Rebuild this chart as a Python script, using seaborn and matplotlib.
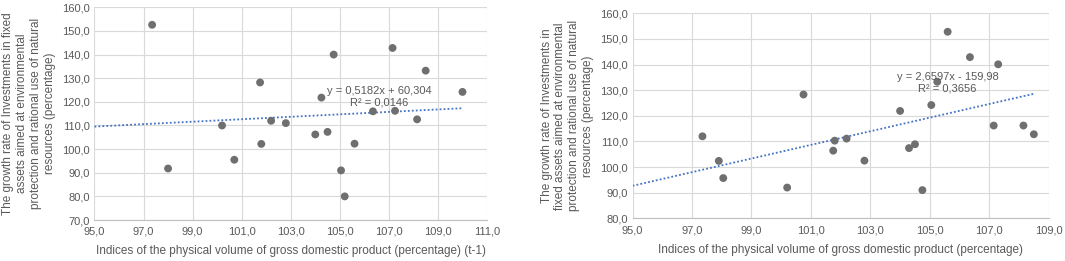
import numpy as np
import pandas as pd
import seaborn as sns
import matplotlib.pyplot as plt
from matplotlib.ticker import FuncFormatter

# GDP volume index (t-1) vs growth rate of environmental investments
gdp_lag = [97.35, 98.0, 100.2, 100.7, 101.75, 101.8, 102.2, 102.8, 104.0, 104.25, 104.5,
           104.75, 105.05, 105.2, 105.6, 106.35, 107.15, 107.25, 108.15, 108.5, 110.0]
invest_lag = [152.6, 91.8, 110.0, 95.5, 128.2, 102.2, 112.0, 111.0, 106.2, 121.8, 107.3,
              140.0, 91.0, 80.0, 102.3, 116.0, 142.8, 116.2, 112.6, 133.2, 124.2]

# GDP volume index (same year) vs growth rate of environmental investments
gdp_cur = [97.35, 97.9, 98.05, 100.2, 100.75, 101.75, 101.8, 102.2, 102.8, 104.0, 104.3,
           104.5, 104.75, 105.05, 105.25, 105.6, 106.35, 107.15, 107.3, 108.15, 108.5]
invest_cur = [112.0, 102.4, 95.7, 92.0, 128.3, 106.4, 110.3, 111.1, 102.5, 121.9, 107.4,
              108.9, 91.0, 124.2, 133.3, 152.8, 142.9, 116.2, 140.1, 116.2, 112.8]

# trendline coefficients as printed on the chart
fit_lag = (0.5182, 60.304, 0.0146)
fit_cur = (2.6597, -159.98, 0.3656)

xticks_lag = np.arange(95, 112, 2)
yticks_lag = np.arange(70, 161, 10)
xticks_cur = np.arange(95, 110, 2)
yticks_cur = np.arange(80, 161, 10)

ylabel_lag = ("The growth rate of Investments in fixed\nassets aimed at environmental\n"
              "protection and rational use of natural\nresources (percentage)")
ylabel_cur = ("The growth rate of Investments in\nfixed assets aimed at environmental\n"
              "protection and rational use of natural\nresources (percentage)")
xlabel_lag = "Indices of the physical volume of gross domestic product (percentage) (t-1)"
xlabel_cur = "Indices of the physical volume of gross domestic product (percentage)"

sns.set_style("white")
plt.rcParams['font.family'] = ['Liberation Sans', 'DejaVu Sans']

txt = '#595959'
comma = FuncFormatter(lambda v, p: f"{v:.1f}".replace('.', ','))


def num(v, d):
    return f"{v:.{d}f}".replace('.', ',')


def panel(ax, x, y, fit, xticks, yticks, xlabel, ylabel, eq_pos):
    df = pd.DataFrame({'x': x, 'y': y})
    sns.scatterplot(data=df, x='x', y='y', ax=ax, color='#6f6f6f', s=32,
                    edgecolor='none', zorder=3)
    a, b, r2 = fit
    xs = np.array([xticks[0], max(x)])
    ax.plot(xs, a * xs + b, color='#4472C4', lw=1.3, ls=(0, (1, 1.2)), zorder=2)
    sign = '+' if b >= 0 else '-'
    ax.text(eq_pos[0], eq_pos[1],
            f"y = {num(a, 4)}x {sign} {num(abs(b), 3 if abs(b) < 100 else 2)}\nR² = {num(r2, 4)}",
            ha='center', va='center', color=txt, fontsize=8, linespacing=1.15, zorder=4)
    ax.set_xlim(xticks[0], xticks[-1])
    ax.set_ylim(yticks[0], yticks[-1])
    ax.set_xticks(xticks)
    ax.set_yticks(yticks)
    ax.xaxis.set_major_formatter(comma)
    ax.yaxis.set_major_formatter(comma)
    ax.grid(True, color='#d9d9d9', lw=0.8)
    ax.set_axisbelow(True)
    for s in ['top', 'right', 'left']:
        ax.spines[s].set_visible(False)
    ax.spines['bottom'].set_color('#bfbfbf')
    ax.spines['bottom'].set_linewidth(0.8)
    ax.tick_params(axis='both', labelsize=8, colors=txt, length=0)
    ax.tick_params(axis='x', pad=5)
    ax.tick_params(axis='y', pad=3.5)
    ax.set_xlabel(xlabel, fontsize=8.5, color=txt, labelpad=6)
    ax.set_ylabel(ylabel, fontsize=8.5, color=txt, labelpad=4, linespacing=1.22)


fig = plt.figure(figsize=(10.65, 2.61), dpi=100)
ax1 = fig.add_axes([0.0887, 0.157, 0.3686, 0.815])
ax2 = fig.add_axes([0.594, 0.1636, 0.3907, 0.7854])

panel(ax1, gdp_lag, invest_lag, fit_lag, xticks_lag, yticks_lag, xlabel_lag, ylabel_lag, (106.6, 122.3))
panel(ax2, gdp_cur, invest_cur, fit_cur, xticks_cur, yticks_cur, xlabel_cur, ylabel_cur, (105.6, 133.0))

fig.savefig('out.png', dpi=100)
